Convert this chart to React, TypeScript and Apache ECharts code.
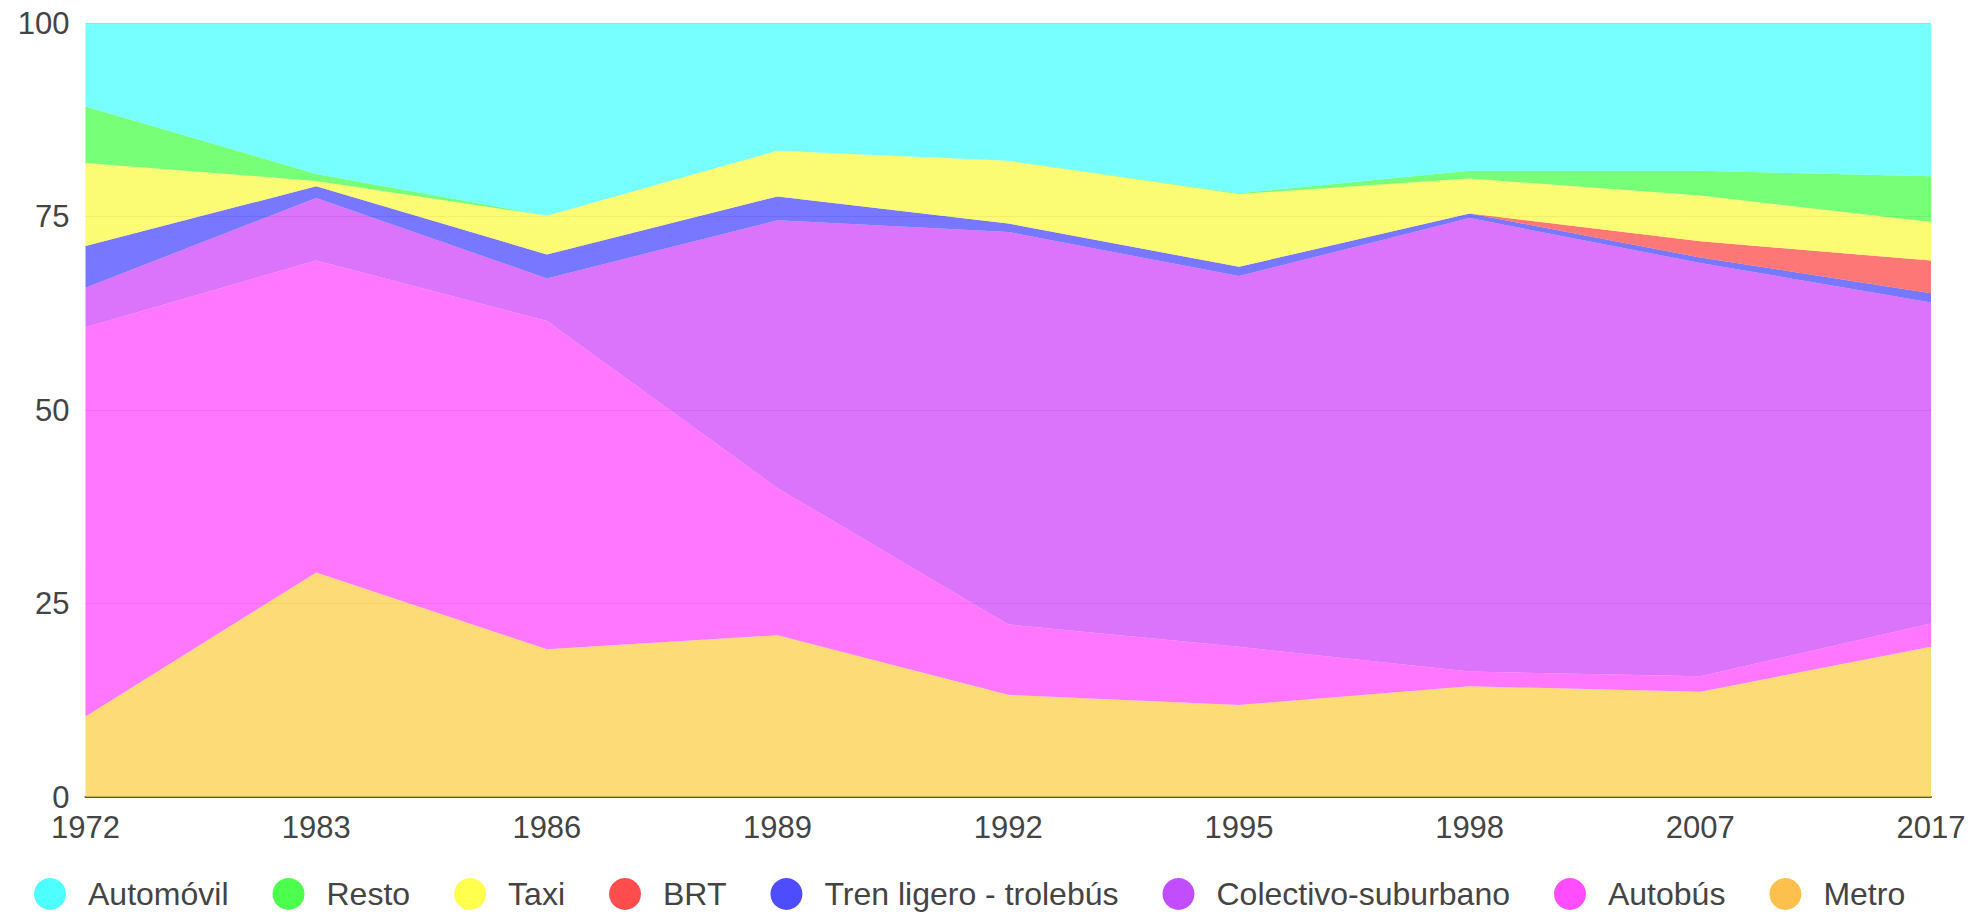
import React, { useEffect, useRef } from "react";
import * as echarts from "echarts";

const years = ["1972", "1983", "1986", "1989", "1992", "1995", "1998", "2007", "2017"];
const metro = [10.4, 29.0, 19.1, 20.9, 13.2, 11.9, 14.3, 13.6, 19.4];
const autobus = [50.3, 40.3, 42.4, 19.0, 9.1, 7.5, 1.9, 2.0, 3.0];
const colectivo = [5.1, 8.1, 5.5, 34.6, 50.7, 47.9, 58.6, 53.4, 41.5];
const tren = [5.4, 1.5, 3.1, 3.1, 1.1, 1.2, 0.6, 0.7, 1.2];
const brt = [0, 0, 0, 0, 0, 0, 0, 2.1, 4.2];
const taxi = [10.7, 0.7, 5.0, 5.9, 8.1, 9.4, 4.5, 5.9, 5.0];
const resto = [7.3, 0.9, 0, 0, 0, 0.1, 1.0, 3.2, 5.9];
const automovil = [10.8, 19.5, 24.9, 16.5, 17.8, 22.0, 19.1, 19.1, 19.8];

const legendOrder = [
  "Automóvil",
  "Resto",
  "Taxi",
  "BRT",
  "Tren ligero - trolebús",
  "Colectivo-suburbano",
  "Autobús",
  "Metro",
];

// bottom to top stacking order
const seriesDefs = [
  { name: "Metro", data: metro, icon: "#FDC04D", area: "rgba(252,208,74,0.75)" },
  { name: "Autobús", data: autobus, icon: "#FF4DFF", area: "rgba(255,74,255,0.75)" },
  { name: "Colectivo-suburbano", data: colectivo, icon: "#C24DFF", area: "rgba(207,70,248,0.75)" },
  { name: "Tren ligero - trolebús", data: tren, icon: "#4D4DFF", area: "rgba(74,74,255,0.75)" },
  { name: "BRT", data: brt, icon: "#FF4D4D", area: "rgba(252,74,74,0.75)" },
  { name: "Taxi", data: taxi, icon: "#FFFF4D", area: "rgba(250,250,70,0.75)" },
  { name: "Resto", data: resto, icon: "#4DFF4D", area: "rgba(74,255,74,0.75)" },
  { name: "Automóvil", data: automovil, icon: "#4DFFFF", area: "rgba(74,255,255,0.75)" },
];

const FONT = "'Liberation Sans', Arial, Helvetica, sans-serif";

export default function App() {
  const ref = useRef<HTMLDivElement>(null);

  useEffect(() => {
    if (!ref.current) return;
    const chart = echarts.init(ref.current, undefined, { renderer: "svg" });
    chart.setOption({
      animation: false,
      textStyle: { fontFamily: FONT },
      grid: { left: 85.5, right: 40, top: 23, bottom: 117, containLabel: false },
      legend: {
        data: legendOrder,
        left: 34,
        top: 878,
        padding: 0,
        icon: "circle",
        itemWidth: 32,
        itemHeight: 32,
        itemGap: 44,
        textStyle: {
          fontSize: 32,
          color: "#444",
          fontFamily: FONT,
          lineHeight: 32,
          padding: [0, 0, 0, 17],
        },
      },
      xAxis: {
        type: "category",
        data: years,
        boundaryGap: false,
        axisLine: { show: true, lineStyle: { color: "#555", width: 2 } },
        axisTick: { show: false },
        axisLabel: { fontSize: 31, color: "#444", margin: 15, fontFamily: FONT },
        splitLine: { show: false },
      },
      yAxis: {
        type: "value",
        min: 0,
        max: 100,
        interval: 25,
        axisLine: { show: false },
        axisTick: { show: false },
        axisLabel: { fontSize: 31, color: "#444", margin: 16, fontFamily: FONT },
        splitLine: { show: true, lineStyle: { color: "#d4d4d4", width: 1 } },
      },
      series: seriesDefs.map((s) => ({
        name: s.name,
        type: "line",
        stack: "total",
        data: s.data,
        showSymbol: false,
        symbol: "none",
        lineStyle: { width: 0, color: s.icon },
        itemStyle: { color: s.icon },
        areaStyle: { color: s.area, opacity: 1 },
      })),
    });
    return () => chart.dispose();
  }, []);

  return (
    <div
      ref={ref}
      style={{ position: "fixed", left: 0, top: 0, width: 1971, height: 914, background: "#fff" }}
    />
  );
}
